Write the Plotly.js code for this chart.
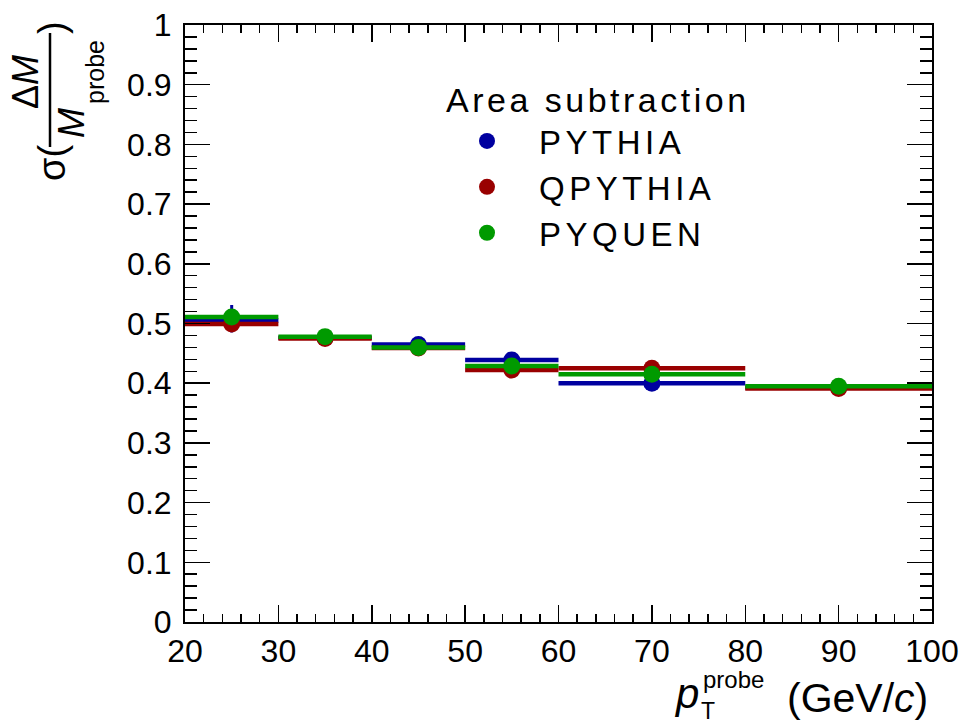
<!DOCTYPE html>
<html>
<head>
<meta charset="utf-8">
<script src="https://cdn.plot.ly/plotly-3.0.1.min.js"></script>
<style>
html,body{margin:0;padding:0;background:#fff;}
#chart{width:962px;height:724px;}
#chart .legendtext{letter-spacing:4.5px;}
#chart g.annotation[data-index="9"] text{letter-spacing:3.5px;}
</style>
</head>
<body>
<div id="chart"></div>
<script>
// ---- data ----
const binEdges = [20, 30, 40, 50, 60, 80, 100];
const binCenters = [25, 35, 45, 55, 70, 90];
const seriesNames = ["PYTHIA", "QPYTHIA", "PYQUEN"];
const legendTitle = "Area subtraction";
const pythia  = [0.505, 0.476, 0.465, 0.439, 0.400, 0.393];
const qpythia = [0.499, 0.475, 0.459, 0.422, 0.425, 0.391];
const pyquen  = [0.511, 0.478, 0.460, 0.429, 0.415, 0.395];
const pythiaErrUp   = [0.026, 0.006, 0.006, 0.006, 0.006, 0.005];
const pythiaErrDown = [0.020, 0.006, 0.006, 0.006, 0.006, 0.005];
const qpythiaErr = [0.006, 0.006, 0.006, 0.006, 0.006, 0.005];
const pyquenErr  = [0.006, 0.006, 0.006, 0.006, 0.006, 0.005];
const xTickVals = [20, 30, 40, 50, 60, 70, 80, 90, 100];
const yTickVals = [0, 0.1, 0.2, 0.3, 0.4, 0.5, 0.6, 0.7, 0.8, 0.9, 1];

const colors = ["#0000a0", "#990000", "#009a00"];
const allVals = [pythia, qpythia, pyquen];
const allErrUp = [pythiaErrUp, qpythiaErr, pyquenErr];
const allErrDown = [pythiaErrDown, qpythiaErr, pyquenErr];

// ---- geometry helpers ----
const W = 962, H = 724, ML = 185, MR = 30, MT = 25, MB = 102;
const PW = W - ML - MR, PH = H - MT - MB;
const xp = px => (px - ML) / PW;
const yp = py => (H - MB - py) / PH;

const FONT = "Liberation Sans, Arial, Helvetica, sans-serif";
const NB = "\u00a0\u00a0\u00a0\u00a0\u00a0";

const traces = [];
allVals.forEach((vals, i) => {
  const lx = [], ly = [];
  for (let k = 0; k < vals.length; k++) {
    lx.push(binEdges[k], binEdges[k + 1], null);
    ly.push(vals[k], vals[k], null);
  }
  traces.push({
    type: "scatter", mode: "lines", x: lx, y: ly,
    line: {color: colors[i], width: 4.5}, showlegend: false, hoverinfo: "skip"
  });
  traces.push({
    type: "scatter", mode: "markers", x: binCenters, y: vals,
    name: seriesNames[i] + NB,
    marker: {color: colors[i], size: 17, symbol: "circle"},
    error_y: {type: "data", symmetric: false, array: allErrUp[i], arrayminus: allErrDown[i],
              visible: true, color: colors[i], thickness: 3, width: 0}
  });
});

const annFont = (s) => ({family: FONT, size: s, color: "#000"});
const annotations = [
  {text: "σ(", x: xp(52), y: yp(163), textangle: -90, font: annFont(38)},
  {text: "Δ<i>M</i>", x: xp(26), y: yp(82), textangle: -90, font: annFont(36)},
  {text: "<i>M</i>", x: xp(71), y: yp(123), textangle: -90, font: annFont(36)},
  {text: "probe", x: xp(95), y: yp(72), textangle: -90, font: annFont(25)},
  {text: ")", x: xp(52), y: yp(28), textangle: -90, font: annFont(38)},
  {text: "<i>p</i>", x: xp(686), y: yp(693), font: annFont(42)},
  {text: "probe", x: xp(733), y: yp(679), font: annFont(24)},
  {text: "T", x: xp(708), y: yp(711), font: annFont(23)},
  {text: "(GeV/<i>c</i>)", x: xp(857), y: yp(698), font: annFont(41)},
  {text: legendTitle, x: xp(598), y: yp(100), font: annFont(34)}
].map(a => Object.assign({xref: "paper", yref: "paper", showarrow: false, xanchor: "center", yanchor: "middle"}, a));

const layout = {
  width: W, height: H,
  margin: {l: ML, r: MR, t: MT, b: MB, pad: 0},
  paper_bgcolor: "#fff", plot_bgcolor: "#fff",
  font: {family: FONT, size: 32, color: "#000"},
  showlegend: true,
  legend: {
    x: xp(435), y: yp(113), xanchor: "left", yanchor: "top",
    bgcolor: "rgba(0,0,0,0)", borderwidth: 0,
    font: {family: FONT, size: 33, color: "#000"},
    itemsizing: "trace", itemwidth: 94, traceorder: "normal"
  },
  xaxis: {
    range: [20, 100], tickvals: xTickVals, ticktext: xTickVals.map(String),
    ticks: "inside", ticklen: 17, tickwidth: 1.5, tickcolor: "#000",
    showline: true, linecolor: "#000", linewidth: 2, mirror: "allticks",
    showgrid: false, zeroline: false,
    minor: {dtick: 2, ticks: "inside", ticklen: 8, tickwidth: 1.5, tickcolor: "#000", showgrid: false},
    tickfont: {family: FONT, size: 32, color: "#000"}, ticklabelstandoff: 0
  },
  yaxis: {
    range: [0, 1], tickvals: yTickVals, ticktext: yTickVals.map(v => String(v)),
    ticks: "inside", ticklen: 25, tickwidth: 1.5, tickcolor: "#000",
    showline: true, linecolor: "#000", linewidth: 2, mirror: "allticks",
    showgrid: false, zeroline: false,
    minor: {dtick: 0.02, ticks: "inside", ticklen: 12, tickwidth: 1.5, tickcolor: "#000", showgrid: false},
    tickfont: {family: FONT, size: 32, color: "#000"}, ticklabelstandoff: 5
  },
  shapes: [
    {type: "line", xref: "paper", yref: "paper", x0: xp(50), x1: xp(50), y0: yp(33), y1: yp(147), line: {color: "#000", width: 2.5}}
  ],
  annotations: annotations
};

Plotly.newPlot("chart", traces, layout, {displayModeBar: false, staticPlot: true});
</script>
</body>
</html>
